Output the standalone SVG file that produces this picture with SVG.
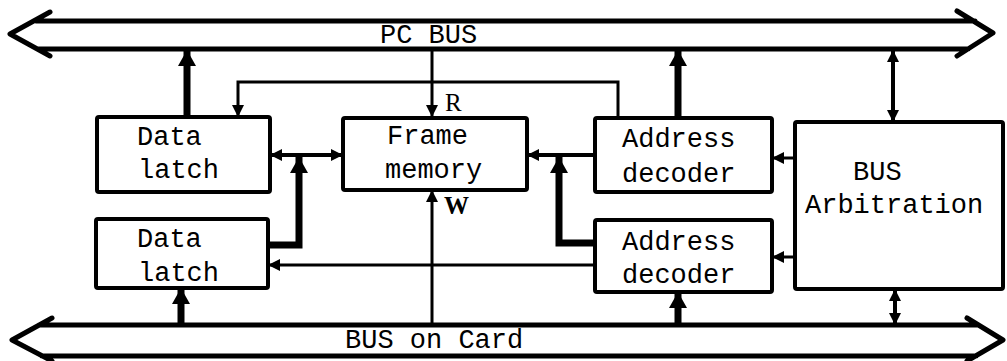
<svg xmlns="http://www.w3.org/2000/svg" width="1007" height="361" viewBox="0 0 1007 361">
  <style>
    .bus { fill: none; stroke: #000; stroke-width: 5; stroke-linejoin: round; stroke-linecap: round; }
    .box { fill: #fff; stroke: #000; stroke-width: 4; }
    .t { font-family: "Liberation Mono", "DejaVu Sans Mono", monospace; font-size: 27px; fill: #000; }
    .lbl { font-family: "Liberation Serif", "DejaVu Serif", serif; font-size: 25px; fill: #000; }
    .thin { fill: none; stroke: #000; stroke-width: 3; }
    .med { fill: none; stroke: #000; stroke-width: 4; }
    .thick { fill: none; stroke: #000; stroke-width: 7; }
  </style>
  <defs>
    <marker id="ah" markerUnits="userSpaceOnUse" markerWidth="12" markerHeight="12" refX="12" refY="6" orient="auto-start-reverse">
      <path d="M0,0 L12,6 L0,12 z" fill="#000"/>
    </marker>
    <marker id="ahBig" markerUnits="userSpaceOnUse" markerWidth="16" markerHeight="18" refX="16" refY="9" orient="auto-start-reverse">
      <path d="M0,0 L16,9 L0,18 z" fill="#000"/>
    </marker>
  </defs>
  <rect width="1007" height="361" fill="#fff"/>

  <g id="pc-bus">
    <path class="bus" d="M50,12 L10,34 L50,56 M36,21 L975,21 M38,49 L968,49 M957,11 L993,33 L957,56"/>
    <text class="t" x="380" y="43">PC BUS</text>
  </g>
  <g id="card-bus">
    <path class="bus" d="M52,318 L12,340 L52,361 M39,325 L978,325 M42,356 L976,356 M967,318 L1003,340 L967,361"/>
    <text class="t" x="345" y="348">BUS on Card</text>
  </g>

  <g id="connectors">
    <path class="thick" d="M187,117 L187,50" marker-end="url(#ahBig)"/>
    <path class="thin" d="M432,49 L432,117" marker-end="url(#ah)"/>
    <path class="thin" d="M618,118 L618,82 L238,82 L238,117" marker-end="url(#ah)"/>
    <path class="thick" d="M678,118 L678,50" marker-end="url(#ahBig)"/>
    <path class="med" d="M893,122 L893,50" marker-start="url(#ah)" marker-end="url(#ah)"/>
    <path class="med" d="M270,155 L343,155" marker-start="url(#ah)" marker-end="url(#ah)"/>
    <path class="thick" d="M268,245 L299,245 L299,157" marker-end="url(#ahBig)"/>
    <path class="med" d="M595,155 L527,155" marker-end="url(#ah)"/>
    <path class="thick" d="M595,243 L559,243 L559,157" marker-end="url(#ahBig)"/>
    <path class="thin" d="M795,158 L772,158" marker-end="url(#ah)"/>
    <path class="thin" d="M795,257 L772,257" marker-end="url(#ah)"/>
    <path class="thin" d="M595,265 L268,265" marker-end="url(#ah)"/>
    <path class="thin" d="M432,325 L432,190" marker-end="url(#ah)"/>
    <path class="thick" d="M181,325 L181,288" marker-end="url(#ahBig)"/>
    <path class="thick" d="M678,325 L678,292" marker-end="url(#ahBig)"/>
    <path class="med" d="M895,289 L895,325" marker-start="url(#ah)" marker-end="url(#ah)"/>
    <text class="lbl" x="445" y="111">R</text>
    <text class="lbl" x="444" y="214" font-weight="bold">W</text>
  </g>

  <g id="data-latch-1">
    <rect class="box" x="97" y="117" width="173" height="75" rx="2"/>
    <text class="t" x="137" y="145">Data</text>
    <text class="t" x="138" y="178">latch</text>
  </g>
  <g id="frame-memory">
    <rect class="box" x="343" y="118" width="184" height="72" rx="2"/>
    <text class="t" x="387" y="144">Frame</text>
    <text class="t" x="385" y="178">memory</text>
  </g>
  <g id="address-decoder-1">
    <rect class="box" x="595" y="118" width="177" height="74" rx="2"/>
    <text class="t" x="622" y="147">Address</text>
    <text class="t" x="622" y="182">decoder</text>
  </g>
  <g id="bus-arbitration">
    <rect class="box" x="795" y="122" width="208" height="167" rx="2"/>
    <text class="t" x="853" y="180">BUS</text>
    <text class="t" x="805" y="213">Arbitration</text>
  </g>
  <g id="data-latch-2">
    <rect class="box" x="96" y="219" width="172" height="69" rx="2"/>
    <text class="t" x="137" y="247">Data</text>
    <text class="t" x="138" y="281">latch</text>
  </g>
  <g id="address-decoder-2">
    <rect class="box" x="595" y="220" width="177" height="72" rx="2"/>
    <text class="t" x="622" y="250">Address</text>
    <text class="t" x="622" y="283">decoder</text>
  </g>
</svg>
